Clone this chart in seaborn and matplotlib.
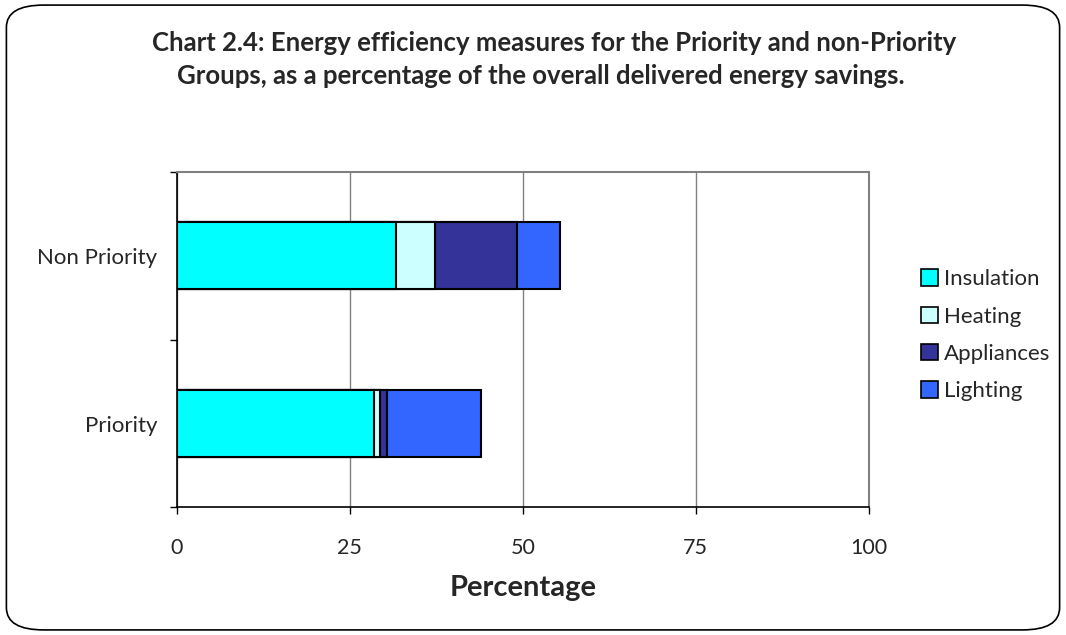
import numpy as np
import pandas as pd
import matplotlib
matplotlib.use("Agg")
import matplotlib.pyplot as plt
import seaborn as sns
from matplotlib.patches import FancyBboxPatch, Patch

groups = ["Non Priority", "Priority"]
measures = ["Insulation", "Heating", "Appliances", "Lighting"]
insulation = [31.7, 28.5]
heating = [5.6, 0.8]
appliances = [11.8, 1.0]
lighting = [6.2, 13.7]
colors = ["#00FFFF", "#CCFFFF", "#333399", "#3366FF"]
xticks = [0, 25, 50, 75, 100]

sns.set_theme(style="white")
plt.rcParams['font.family'] = ['Lato', 'DejaVu Sans']

fig = plt.figure(figsize=(10.66, 6.35), dpi=100)
ax = fig.add_axes([0.166, 0.201, 0.649, 0.528])

series = [insulation, heating, appliances, lighting]
cum = np.cumsum(np.array(series), axis=0)
# draw from largest cumulative to smallest so each segment shows
for i in range(len(measures) - 1, -1, -1):
    df = pd.DataFrame({"group": groups, "value": cum[i]})
    sns.barplot(data=df, y="group", x="value", order=groups, orient="h",
                color=colors[i], saturation=1, width=0.4,
                edgecolor="black", linewidth=1.5, ax=ax)

ax.set_xlim(0, 100)
ax.set_ylim(1.5, -0.5)
ax.set_xticks(xticks)
ax.set_xticklabels([str(t) for t in xticks], fontsize=15.5)
ax.tick_params(axis='x', direction='out', length=5, width=1, color='black', pad=17, bottom=True)
ax.set_yticks([0, 1])
ax.set_yticklabels(groups, fontsize=16)
ax.tick_params(axis='y', which='major', length=0, pad=14)
ax.set_yticks([-0.5, 0.5, 1.5], minor=True)
ax.tick_params(axis='y', which='minor', direction='out', length=5, width=1, color='black', left=True)
ax.set_ylabel("")
ax.set_xlabel("Percentage", fontsize=21, fontweight='bold', labelpad=12)
ax.xaxis.grid(True, color='#808080', linewidth=1)
ax.set_axisbelow(True)
for s in ['top', 'right']:
    ax.spines[s].set_color('#808080')
    ax.spines[s].set_linewidth(1.5)
for s in ['left', 'bottom']:
    ax.spines[s].set_color('black')
    ax.spines[s].set_linewidth(1.2)

handles = [Patch(facecolor=c, edgecolor='black', linewidth=1.2) for c in colors]
fig.legend(handles, measures, loc='center left', bbox_to_anchor=(0.864, 0.472),
           frameon=False, fontsize=16, handlelength=0.75, handleheight=0.75,
           handletextpad=0.3, labelspacing=0.78, borderpad=0, borderaxespad=0)

fig.text(0.52, 0.932, "Chart 2.4: Energy efficiency measures for the Priority and non-Priority",
         ha='center', va='center', fontsize=18.5, fontweight='bold')
fig.text(0.507, 0.88, "Groups, as a percentage of the overall delivered energy savings.",
         ha='center', va='center', fontsize=18.5, fontweight='bold')

border = FancyBboxPatch((0.006, 0.008), 0.988, 0.984, boxstyle="round,pad=0,rounding_size=0.035",
                        transform=fig.transFigure, fill=False, edgecolor='black', linewidth=1.2)
fig.patches.append(border)

fig.savefig("out.png", dpi=100)
